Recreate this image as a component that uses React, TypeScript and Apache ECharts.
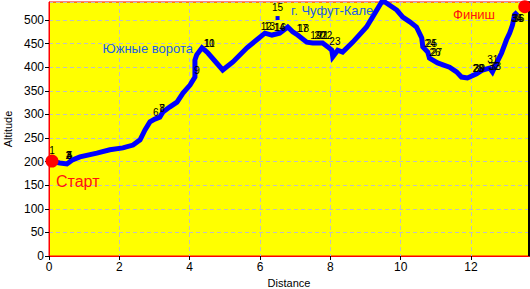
import React, { useEffect, useRef } from "react";
import * as echarts from "echarts";

// Track profile (distance, altitude)
const distance = [
  0.17, 0.31, 0.51, 0.65, 0.88, 1.36, 1.73, 2.10, 2.39, 2.59,
  2.73, 2.87, 3.01, 3.15, 3.24, 3.44, 3.64, 3.81, 4.01, 4.15,
  4.15, 4.20, 4.35, 4.43, 4.52, 4.94, 5.23, 5.63, 5.91, 6.14,
  6.34, 6.56, 6.79, 6.93, 7.07, 7.33, 7.50, 7.78, 7.93, 8.04,
  8.07, 8.21, 8.35, 8.64, 9.03, 9.20, 9.46, 9.55, 9.89, 10.06,
  10.26, 10.45, 10.60, 10.63, 10.77, 10.82, 11.05, 11.39, 11.59, 11.73,
  11.90, 12.16, 12.33, 12.53, 12.61, 12.73, 12.87, 13.01, 13.10, 13.18,
  13.24, 13.32,
];
const altitude = [
  199, 197, 195, 203, 210, 218, 225, 229, 235, 246,
  267, 284, 290, 294, 305, 316, 326, 345, 362, 379,
  415, 426, 441, 436, 430, 394, 411, 441, 458, 472,
  468, 472, 485, 475, 468, 453, 451, 451, 443, 436,
  422, 436, 432, 453, 485, 506, 538, 538, 521, 506,
  496, 485, 462, 443, 432, 419, 409, 400, 390, 379,
  377, 386, 394, 398, 390, 409, 430, 458, 472, 489,
  511, 517,
];

// Waypoints
const wpLabels = [
  "1", "2", "3", "4", "5", "6", "7", "8", "9", "10",
  "11", "12", "13", "14", "16", "15", "17", "18", "19", "20",
  "21", "22", "23", "24", "25", "26", "27", "28", "29", "30",
  "31", "32", "33", "34", "35", "36",
];
const wpDist = [
  0.085, 0.55, 0.57, 0.57, 0.59, 3.04, 3.21, 3.22, 4.21, 4.55,
  4.57, 6.18, 6.27, 6.55, 6.58, 6.5, 7.2, 7.24, 7.59, 7.70,
  7.79, 7.90, 8.13, 10.84, 10.88, 10.98, 11.02, 12.2, 12.22, 12.24,
  12.62, 12.66, 12.7, 13.3, 13.33, 13.36,
];
const wpAlt = [
  205, 193, 193, 193, 193, 284, 294, 294, 373, 430,
  430, 466, 466, 464, 464, 504, 462, 462, 447, 447,
  447, 447, 436, 430, 430, 411, 411, 379, 379, 379,
  398, 383, 383, 485, 485, 485,
];
const offTrackWaypoint = "15";

const startPoint = [0.085, 201];
const finishPoint = [13.53, 528];

const xTicks = [0, 2, 4, 6, 8, 10, 12];
const yTicks = [0, 50, 100, 150, 200, 250, 300, 350, 400, 450, 500];
const xMax = 13.65;
const yMax = 538;

const FONT = "'Liberation Sans', Arial, sans-serif";

export default function App() {
  const ref = useRef<HTMLDivElement>(null);

  useEffect(() => {
    if (!ref.current) return;
    const chart = echarts.init(ref.current, undefined, { renderer: "svg" });

    const track = distance.map((d, i) => [d, altitude[i]]);
    const wps = wpLabels.map((l, i) => ({
      value: [wpDist[i], wpAlt[i]],
      name: l,
      symbolSize: l === offTrackWaypoint ? 4 : 0,
    }));

    chart.setOption({
      animation: false,
      textStyle: { fontFamily: FONT },
      grid: {
        left: 49,
        top: 2,
        width: 480,
        height: 254,
        outerBoundsMode: "none",
        containLabel: false,
        show: true,
        backgroundColor: "#ffff00",
        borderColor: "#ff0000",
        borderWidth: 1,
      },
      xAxis: {
        type: "value",
        min: 0,
        max: xMax,
        interval: 2,
        name: "Distance",
        nameLocation: "middle",
        nameGap: 18,
        nameTextStyle: { color: "#000", fontSize: 11, fontFamily: FONT },
        axisLine: { show: true, lineStyle: { color: "#ff0000", width: 1 } },
        axisTick: { show: true, length: 4, lineStyle: { color: "#000" } },
        axisLabel: {
          color: "#000",
          fontSize: 12,
          margin: 5,
          fontFamily: FONT,
          showMaxLabel: false,
          formatter: (v: number) => (xTicks.includes(v) ? String(v) : ""),
        },
        splitLine: {
          show: true,
          lineStyle: { color: "#c0c0c0", type: [4, 3], width: 1 },
        },
      },
      yAxis: [
        {
          type: "value",
          min: 0,
          max: yMax,
          interval: 50,
          name: "Altitude",
          nameLocation: "middle",
          nameGap: 36,
          nameTextStyle: { color: "#000", fontSize: 11, fontFamily: FONT },
          axisLine: { show: true, lineStyle: { color: "#ff0000", width: 1 } },
          axisTick: { show: true, length: 4, lineStyle: { color: "#000" } },
          axisLabel: {
            color: "#000",
            fontSize: 12,
            margin: 5,
            fontFamily: FONT,
            showMaxLabel: false,
            formatter: (v: number) => (yTicks.includes(v) ? String(v) : ""),
          },
          splitLine: {
            show: true,
            lineStyle: { color: "#c0c0c0", type: [4, 3], width: 1 },
          },
        },
        {
          type: "value",
          position: "right",
          min: 0,
          max: yMax,
          axisLine: { show: true, lineStyle: { color: "#000", width: 2 } },
          axisTick: { show: false },
          axisLabel: { show: false },
          splitLine: { show: false },
        },
      ],
      series: [
        {
          type: "line",
          data: track,
          showSymbol: false,
          lineStyle: { color: "#0000ff", width: 5, join: "miter" },
          z: 2,
        },
        {
          type: "scatter",
          data: wps,
          symbol: "rect",
          itemStyle: { color: "#0000ff", opacity: 1 },
          label: {
            show: true,
            position: "top",
            distance: 4,
            formatter: (p: any) => p.name,
            color: "#000",
            opacity: 1,
            fontSize: 10,
            fontFamily: FONT,
          },
          z: 3,
        },
        {
          type: "scatter",
          data: [startPoint, finishPoint],
          symbolSize: 13,
          itemStyle: { color: "#ff0000", opacity: 1 },
          z: 4,
        },
      ],
      graphic: [
        {
          type: "text",
          x: 193,
          y: 48,
          style: {
            text: "Южные ворота",
            fill: "#1a5ce8",
            font: `13px ${FONT}`,
            align: "right",
            verticalAlign: "middle",
          },
          z: 10,
        },
        {
          type: "text",
          x: 291,
          y: 10,
          style: {
            text: "г. Чуфут-Кале",
            fill: "#1a5ce8",
            font: `13px ${FONT}`,
            align: "left",
            verticalAlign: "middle",
          },
          z: 10,
        },
        {
          type: "text",
          x: 453,
          y: 14,
          style: {
            text: "Финиш",
            fill: "#ff1010",
            font: `13px ${FONT}`,
            align: "left",
            verticalAlign: "middle",
          },
          z: 10,
        },
        {
          type: "text",
          x: 56,
          y: 181,
          style: {
            text: "Старт",
            fill: "#ff1010",
            font: `16px ${FONT}`,
            align: "left",
            verticalAlign: "middle",
          },
          z: 10,
        },
      ],
    });

    return () => chart.dispose();
  }, []);

  return (
    <div
      ref={ref}
      style={{ position: "absolute", left: 0, top: 0, width: 530, height: 289 }}
    />
  );
}
